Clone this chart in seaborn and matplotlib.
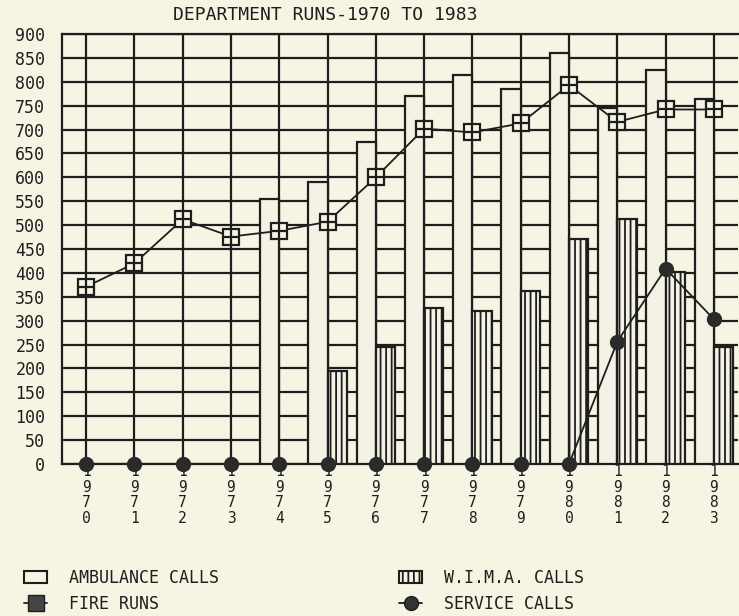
import numpy as np
import pandas as pd
import matplotlib
matplotlib.use("Agg")
import matplotlib.pyplot as plt
import seaborn as sns
from matplotlib.patches import Patch
from matplotlib.lines import Line2D

years = ["1970", "1971", "1972", "1973", "1974", "1975", "1976",
         "1977", "1978", "1979", "1980", "1981", "1982", "1983"]
ambulance_calls = [np.nan, np.nan, np.nan, np.nan, 555, 590, 675, 770, 815, 785, 860, 745, 825, 765]
wima_calls = [np.nan, np.nan, np.nan, np.nan, np.nan, 195, 245, 327, 321, 362, 470, 512, 402, 245]
fire_runs = [371, 420, 512, 476, 488, 507, 600, 702, 694, 713, 793, 716, 742, 742]
service_calls = [0, 0, 0, 0, 0, 0, 0, 0, 0, 0, 0, 256, 409, 303]
yticks = list(range(0, 901, 50))

BG = "#f6f4e2"
INK = "#1e1e1e"

sns.set_theme(style="white")
plt.rcParams['font.family'] = ['DejaVu Sans Mono']
plt.rcParams['hatch.linewidth'] = 1.3
plt.rcParams['hatch.color'] = INK

fig = plt.figure(figsize=(7.39, 6.16), dpi=100, facecolor=BG)
ax = fig.add_axes([62/739, 1 - 464/616, 676/739, 430/616])
ax.set_facecolor(BG)

df = pd.DataFrame({
    "year": years * 2,
    "value": ambulance_calls + wima_calls,
    "series": ["AMBULANCE CALLS"] * len(years) + ["W.I.M.A. CALLS"] * len(years),
})
sns.barplot(data=df, x="year", y="value", hue="series", order=years,
            hue_order=["AMBULANCE CALLS", "W.I.M.A. CALLS"],
            palette=[BG, BG], width=0.8, dodge=True, ax=ax,
            edgecolor=INK, linewidth=1.6, legend=False, zorder=3)
for p in ax.containers[1]:
    p.set_hatch("|||")

ax.set_axisbelow(True)
ax.grid(True, axis="both", color=INK, linewidth=1.6, zorder=0)

x = np.arange(len(years))
sns.lineplot(x=x, y=fire_runs, ax=ax, color=INK, linewidth=1.3, zorder=5)
ax.plot(x, fire_runs, linestyle="none", marker="s", markersize=11,
        markerfacecolor=BG, markeredgecolor=INK, markeredgewidth=1.6, zorder=6)
ax.plot(x, fire_runs, linestyle="none", marker="+", markersize=11,
        markeredgecolor=INK, markeredgewidth=1.6, zorder=7)

sns.lineplot(x=x, y=service_calls, ax=ax, color=INK, linewidth=1.3, zorder=5)
ax.plot(x, service_calls, linestyle="none", marker="o", markersize=10,
        color="#2a2a2a", zorder=6, clip_on=False)

ax.set_xlim(-0.5, len(years) - 0.5)
ax.set_ylim(0, 900)
ax.set_yticks(yticks)
ax.set_yticklabels([str(v) for v in yticks], fontsize=12, color=INK)
ax.set_xticks(x)
ax.set_xticklabels(["\n".join(y) for y in years], fontsize=10.5, color=INK,
                   linespacing=1.05)
ax.tick_params(axis="x", length=0, pad=0)
ax.tick_params(axis="y", length=0, pad=12)
ax.set_xlabel("")
ax.set_ylabel("")
for s in ax.spines.values():
    s.set_color(INK)
    s.set_linewidth(1.6)
ax.spines["right"].set_visible(False)

fig.text(325/739, 1 - 15/616, "DEPARTMENT RUNS-1970 TO 1983", ha="center",
         va="center", fontsize=13, color=INK)

handles = [
    Patch(facecolor=BG, edgecolor=INK, linewidth=1.5, label="AMBULANCE CALLS"),
    Line2D([0], [0], color=INK, marker="s", markersize=11, markerfacecolor="#444",
           markeredgecolor=INK, linewidth=1.3, label="FIRE RUNS"),
    Patch(facecolor=BG, edgecolor=INK, linewidth=1.5, hatch="|||", label="W.I.M.A. CALLS"),
    Line2D([0], [0], color=INK, marker="o", markersize=10, markerfacecolor="#333",
           markeredgecolor=INK, linewidth=1.3, label="SERVICE CALLS"),
]
leg = fig.legend(handles=handles, loc="lower left", bbox_to_anchor=(9/739, -12/616),
                 ncol=2, frameon=False, fontsize=12, handlelength=1.4,
                 columnspacing=10.8, handletextpad=1.3, labelspacing=0.5,
                 labelcolor=INK)

fig.savefig("out.png", dpi=100, facecolor=BG)
